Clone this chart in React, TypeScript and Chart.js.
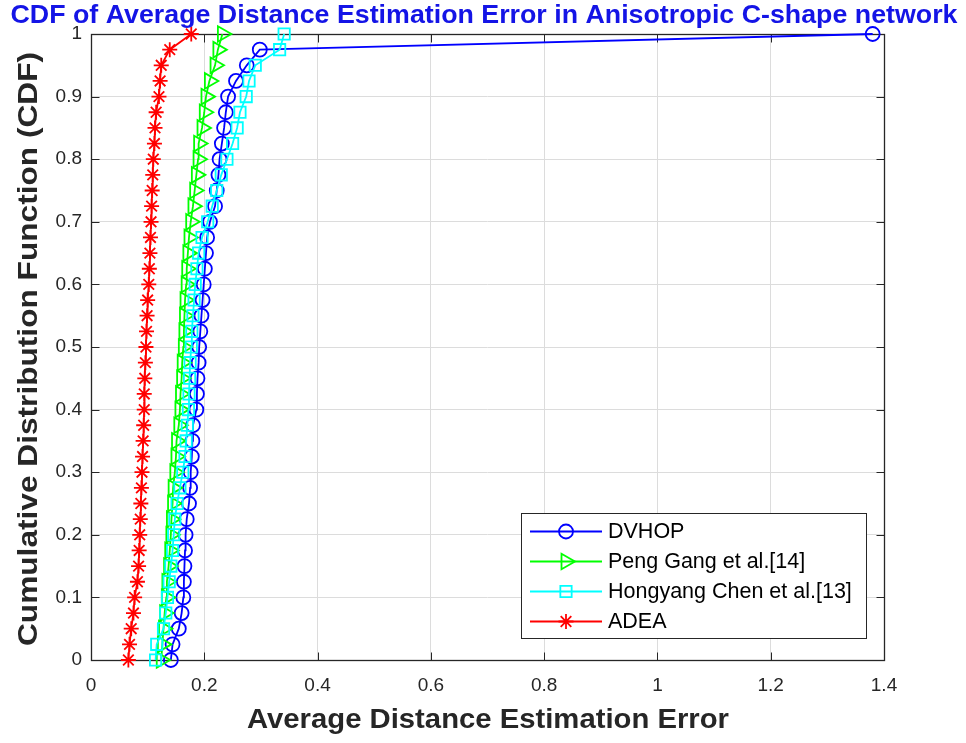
import { useEffect, useRef } from 'react';
import { Chart, registerables } from 'chart.js';
import { drawPoint } from 'chart.js/helpers';

Chart.register(...registerables);

// Empirical CDF levels shared by every curve
const cdfLevels = [
  0, 0.025, 0.05, 0.075, 0.1, 0.125, 0.15, 0.175, 0.2, 0.225,
  0.25, 0.275, 0.3, 0.325, 0.35, 0.375, 0.4, 0.425, 0.45, 0.475,
  0.5, 0.525, 0.55, 0.575, 0.6, 0.625, 0.65, 0.675, 0.7, 0.725,
  0.75, 0.775, 0.8, 0.825, 0.85, 0.875, 0.9, 0.925, 0.95, 0.975, 1,
];

// Sorted average distance estimation errors per method
const dvhopError = [
  0.141, 0.144, 0.155, 0.160, 0.163, 0.164, 0.165, 0.166, 0.167, 0.169,
  0.173, 0.175, 0.176, 0.178, 0.179, 0.180, 0.186, 0.187, 0.188, 0.190,
  0.191, 0.193, 0.195, 0.197, 0.199, 0.201, 0.203, 0.205, 0.210, 0.219,
  0.222, 0.225, 0.227, 0.231, 0.235, 0.238, 0.242, 0.256, 0.275, 0.298, 1.380,
];
const pengGangError = [
  0.124, 0.126, 0.128, 0.130, 0.133, 0.134, 0.137, 0.139, 0.141, 0.142,
  0.144, 0.145, 0.148, 0.150, 0.151, 0.155, 0.157, 0.158, 0.160, 0.161,
  0.163, 0.164, 0.165, 0.166, 0.168, 0.169, 0.171, 0.173, 0.176, 0.180,
  0.183, 0.186, 0.189, 0.190, 0.196, 0.200, 0.203, 0.209, 0.219, 0.224, 0.232,
];
const hongyangChenError = [
  0.114, 0.116, 0.128, 0.132, 0.135, 0.138, 0.141, 0.144, 0.146, 0.148,
  0.152, 0.157, 0.162, 0.166, 0.168, 0.170, 0.172, 0.173, 0.174, 0.175,
  0.177, 0.178, 0.180, 0.182, 0.184, 0.187, 0.190, 0.196, 0.206, 0.214,
  0.222, 0.230, 0.240, 0.250, 0.258, 0.263, 0.274, 0.279, 0.290, 0.333, 0.341,
];
const adeaError = [
  0.066, 0.068, 0.071, 0.075, 0.077, 0.082, 0.084, 0.085, 0.086, 0.087,
  0.088, 0.089, 0.090, 0.091, 0.092, 0.093, 0.094, 0.094, 0.095, 0.096,
  0.097, 0.098, 0.099, 0.100, 0.102, 0.103, 0.104, 0.105, 0.106, 0.107,
  0.108, 0.109, 0.110, 0.112, 0.113, 0.115, 0.120, 0.122, 0.124, 0.139, 0.177,
];

const seriesLabels = ['DVHOP', 'Peng Gang et al.[14]', 'Hongyang Chen et al.[13]', 'ADEA'];

const xTickValues = [0, 0.2, 0.4, 0.6, 0.8, 1, 1.2, 1.4];
const yTickValues = [0, 0.1, 0.2, 0.3, 0.4, 0.5, 0.6, 0.7, 0.8, 0.9, 1];

const chartTitle = 'CDF of Average Distance Estimation Error in Anisotropic C-shape network';
const xAxisTitle = 'Average Distance Estimation Error';
const yAxisTitle = 'Cumulative Distribution Function (CDF)';

const FONT = '"Liberation Sans", Arial, Helvetica, sans-serif';
const INK = '#262626';
const GRID = '#dcdcdc';

const fmt = (v: number) => String(Number(v.toFixed(2)));

const toPoints = (xs: number[]) => xs.map((x, i) => ({ x, y: cdfLevels[i] }));

// Text squeezed or stretched horizontally so it spans a given width
function fittedText(
  ctx: CanvasRenderingContext2D,
  text: string,
  font: string,
  cx: number,
  baseline: number,
  width: number,
  rotate = false,
) {
  ctx.save();
  ctx.font = font;
  const w = ctx.measureText(text).width;
  ctx.translate(cx, baseline);
  if (rotate) ctx.rotate(-Math.PI / 2);
  ctx.scale(width / w, 1);
  ctx.textAlign = 'center';
  ctx.textBaseline = 'alphabetic';
  ctx.fillText(text, 0, 0);
  ctx.restore();
}

// Axes box with inward tick marks on all four sides
const axesBox = {
  id: 'axesBox',
  beforeDatasetsDraw(chart: any) {
    const { ctx, chartArea: a, scales } = chart;
    const L = Math.round(a.left) + 0.5;
    const R = Math.round(a.right) + 0.5;
    const T = Math.round(a.top) + 0.5;
    const B = Math.round(a.bottom) + 0.5;
    const len = 8;
    ctx.save();
    ctx.strokeStyle = INK;
    ctx.lineWidth = 1;
    ctx.beginPath();
    for (const v of xTickValues) {
      const px = Math.round(scales.x.getPixelForValue(v)) + 0.5;
      ctx.moveTo(px, B);
      ctx.lineTo(px, B - len);
      ctx.moveTo(px, T);
      ctx.lineTo(px, T + len);
    }
    for (const v of yTickValues) {
      const py = Math.round(scales.y.getPixelForValue(v)) + 0.5;
      ctx.moveTo(L, py);
      ctx.lineTo(L + len, py);
      ctx.moveTo(R, py);
      ctx.lineTo(R - len, py);
    }
    ctx.stroke();
    ctx.lineWidth = 1.3;
    ctx.strokeRect(L, T, R - L, B - T);
    ctx.restore();
  },
};

// Titles and the boxed legend in the lower right
const annotations = {
  id: 'annotations',
  afterDraw(chart: any) {
    const { ctx } = chart;
    ctx.save();
    ctx.fillStyle = '#1414e6';
    fittedText(ctx, chartTitle, `bold 26px ${FONT}`, 484, 23, 947);
    ctx.fillStyle = INK;
    fittedText(ctx, xAxisTitle, `bold 27px ${FONT}`, 488, 728, 482);
    fittedText(ctx, yAxisTitle, `bold 27px ${FONT}`, 37, 349, 594, true);

    // legend
    const box = { x: 521.5, y: 513.5, w: 345, h: 125 };
    ctx.fillStyle = '#ffffff';
    ctx.fillRect(box.x, box.y, box.w, box.h);
    ctx.strokeStyle = INK;
    ctx.lineWidth = 1;
    ctx.strokeRect(box.x, box.y, box.w, box.h);
    const rows = [531.5, 561.5, 591.5, 621.5];
    chart.data.datasets.forEach((ds: any, i: number) => {
      const y = rows[i];
      ctx.strokeStyle = ds.borderColor;
      ctx.lineWidth = ds.borderWidth;
      ctx.beginPath();
      ctx.moveTo(530, y);
      ctx.lineTo(602, y);
      ctx.stroke();
      ctx.fillStyle = 'rgba(0,0,0,0)';
      ctx.lineWidth = ds.pointBorderWidth;
      drawPoint(ctx, {
        pointStyle: ds.pointStyle,
        radius: ds.pointRadius,
        rotation: ds.pointRotation || 0,
        borderWidth: ds.pointBorderWidth,
      }, 566, y);
      ctx.fillStyle = '#000000';
      ctx.font = `21.5px ${FONT}`;
      ctx.textAlign = 'left';
      ctx.textBaseline = 'middle';
      ctx.fillText(ds.label, 608, y + 1);
    });
    ctx.restore();
  },
};

export default function App() {
  const canvasRef = useRef<HTMLCanvasElement | null>(null);

  useEffect(() => {
    if (!canvasRef.current) return;
    const common = {
      backgroundColor: 'rgba(0,0,0,0)',
      pointBackgroundColor: 'rgba(0,0,0,0)',
      borderWidth: 1.8,
      pointBorderWidth: 1.8,
      clip: false as any,
      tension: 0,
    };
    const chart = new Chart(canvasRef.current, {
      type: 'line',
      data: {
        datasets: [
          {
            ...common,
            label: seriesLabels[0],
            data: toPoints(dvhopError),
            borderColor: '#0000ff',
            pointBorderColor: '#0000ff',
            pointStyle: 'circle',
            pointRadius: 7,
            order: 4,
          },
          {
            ...common,
            label: seriesLabels[1],
            data: toPoints(pengGangError),
            borderColor: '#00ff00',
            pointBorderColor: '#00ff00',
            pointStyle: 'triangle',
            pointRotation: 90,
            pointRadius: 9,
            order: 3,
          },
          {
            ...common,
            label: seriesLabels[2],
            data: toPoints(hongyangChenError),
            borderColor: '#00ffff',
            pointBorderColor: '#00ffff',
            pointStyle: 'rect',
            pointRadius: 8,
            order: 2,
          },
          {
            ...common,
            label: seriesLabels[3],
            data: toPoints(adeaError),
            borderColor: '#ff0000',
            pointBorderColor: '#ff0000',
            pointStyle: 'star',
            pointRadius: 7.5,
            order: 1,
          },
        ] as any,
      },
      options: {
        animation: false,
        responsive: false,
        events: [],
        layout: { padding: { left: 0, top: 34, right: 82, bottom: 0 } },
        plugins: {
          legend: { display: false },
          title: { display: false },
          tooltip: { enabled: false },
        },
        scales: {
          x: {
            type: 'linear',
            min: 0,
            max: 1.4,
            afterBuildTicks: (s: any) => {
              s.ticks = xTickValues.map((value) => ({ value }));
            },
            afterFit: (s: any) => {
              s.height = 83;
            },
            grid: { color: GRID, drawTicks: false },
            border: { display: false },
            ticks: {
              color: INK,
              padding: 14,
              maxRotation: 0,
              font: { family: FONT, size: 19 },
              callback: (v: any) => fmt(Number(v)),
            },
          },
          y: {
            type: 'linear',
            min: 0,
            max: 1,
            afterBuildTicks: (s: any) => {
              s.ticks = yTickValues.map((value) => ({ value }));
            },
            afterFit: (s: any) => {
              s.width = 91;
            },
            grid: { color: GRID, drawTicks: false },
            border: { display: false },
            ticks: {
              color: INK,
              padding: 9,
              font: { family: FONT, size: 19 },
              callback: (v: any) => fmt(Number(v)),
            },
          },
        },
      },
      plugins: [axesBox, annotations],
    });
    return () => chart.destroy();
  }, []);

  return (
    <div style={{ position: 'fixed', left: 0, top: 0, width: 966, height: 743, background: '#ffffff' }}>
      <canvas ref={canvasRef} width={966} height={743} style={{ display: 'block' }} />
    </div>
  );
}
